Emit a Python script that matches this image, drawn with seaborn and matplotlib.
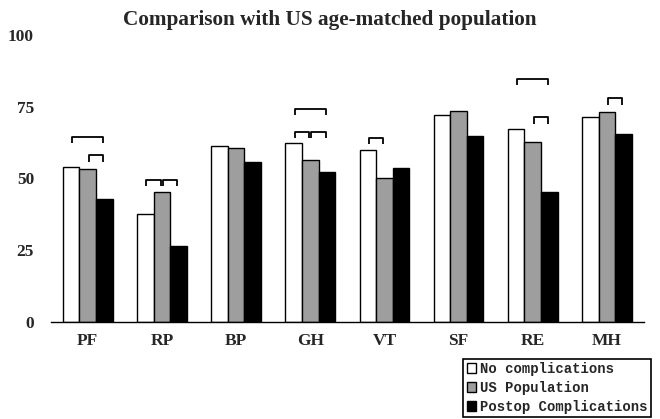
import numpy as np
import pandas as pd
import matplotlib.pyplot as plt
import seaborn as sns

# SF-36 domains, mean scores
categories = ['PF', 'RP', 'BP', 'GH', 'VT', 'SF', 'RE', 'MH']
no_complications = [54.1, 37.6, 61.3, 62.2, 59.9, 72.1, 67.2, 71.3]
us_population = [53.4, 45.3, 60.6, 56.4, 50.0, 73.6, 62.6, 73.2]
postop_complications = [42.8, 26.5, 55.9, 52.3, 53.7, 64.8, 45.1, 65.5]
groups = ['No complications', 'US Population', 'Postop Complications']

# significance brackets: domain, left group, right group, height
bracket_cat = ['PF', 'PF', 'RP', 'RP', 'GH', 'GH', 'GH', 'VT', 'RE', 'RE', 'MH']
bracket_from = [0, 1, 0, 1, 0, 0, 1, 0, 0, 1, 1]
bracket_to = [2, 2, 1, 2, 2, 1, 2, 1, 2, 2, 2]
bracket_y = [64.5, 58.1, 49.4, 49.4, 74.2, 66.2, 66.2, 64.2, 84.7, 71.3, 77.9]

df = pd.DataFrame({
    'domain': categories * 3,
    'group': np.repeat(groups, len(categories)),
    'score': no_complications + us_population + postop_complications,
})

sns.set_theme(style="white")
plt.rcParams['font.family'] = ['Liberation Serif', 'DejaVu Serif']

fig = plt.figure(figsize=(6.6, 4.19), dpi=100)
ax = fig.add_axes([0.0768, 0.2322, 0.899, 0.684])

palette = ['white', '#9e9e9e', 'black']
sns.barplot(data=df, x='domain', y='score', hue='group', order=categories,
            hue_order=groups, palette=palette, width=0.67, gap=0,
            edgecolor='black', linewidth=1.0, saturation=1, ax=ax)

# brackets from bar centers
for cat, a, b, y in zip(bracket_cat, bracket_from, bracket_to, bracket_y):
    i = categories.index(cat)
    pa = ax.containers[a][i]
    pb = ax.containers[b][i]
    x0 = pa.get_x() + pa.get_width() / 2 + 0.015
    x1 = pb.get_x() + pb.get_width() / 2 - 0.015
    ax.plot([x0, x0, x1, x1], [y - 2.2, y, y, y - 2.2], color='black',
            lw=1.3, solid_capstyle='butt')

ax.set_ylim(0, 100)
ax.set_xlim(-0.5, len(categories) - 0.5)
ax.set_yticks([0, 25, 50, 75, 100])
ax.set_yticklabels(['0', '25', '50', '75', '100'], fontsize=12.5, fontweight='bold')
ax.set_xticks(range(len(categories)))
ax.set_xticklabels(categories, fontsize=12.5, fontweight='bold')
ax.set_xticks(np.arange(-0.5, len(categories)), minor=True)
ax.tick_params(axis='x', which='major', length=0, pad=8)
ax.tick_params(axis='x', which='minor', length=4, width=1, direction='out', color='black')
ax.tick_params(axis='y', length=0, pad=12)
ax.set_xlabel('')
ax.set_ylabel('')

for s in ['top', 'right', 'left']:
    ax.spines[s].set_visible(False)
ax.spines['bottom'].set_color('black')
ax.spines['bottom'].set_linewidth(1.0)

fig.text(0.5, 0.940, 'Comparison with US age-matched population', ha='center',
         va='baseline', fontsize=15.3, fontweight='bold')

handles, labels = ax.get_legend_handles_labels()
ax.get_legend().remove()
leg = fig.legend(handles, labels, loc='lower right', bbox_to_anchor=(0.987, 0.004),
                 prop={'family': 'Liberation Mono', 'weight': 'bold', 'size': 10},
                 frameon=True, fancybox=False, edgecolor='black', framealpha=1,
                 handlelength=0.7, handleheight=0.7, handletextpad=0.3,
                 labelspacing=0.35, borderpad=0.25, borderaxespad=0)
leg.get_frame().set_linewidth(1.2)

plt.savefig('out.png', dpi=100, facecolor='white')
